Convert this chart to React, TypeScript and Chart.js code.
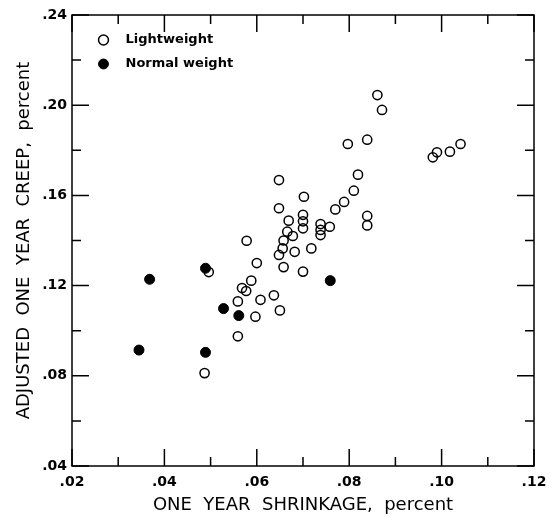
import React, { useEffect, useRef } from 'react';
import { Chart, registerables } from 'chart.js';

Chart.register(...registerables);

// Lightweight concrete (open circles)
const lightShrinkage = [
  0.0487, 0.0496, 0.0559, 0.0559, 0.0568, 0.0577, 0.0578, 0.0588, 0.0597, 0.06,
  0.0608, 0.0637, 0.065, 0.0648, 0.0648, 0.0648, 0.0656, 0.0658, 0.0658, 0.0666,
  0.0669, 0.0678, 0.0682, 0.07, 0.07, 0.07, 0.07, 0.0702, 0.0718, 0.0738,
  0.0738, 0.0738, 0.0758, 0.077, 0.0789, 0.0797, 0.081, 0.0819, 0.0839, 0.0839,
  0.0839, 0.0861, 0.0871, 0.0981, 0.099, 0.1018, 0.1041,
];
const lightCreep = [
  0.0812, 0.126, 0.0975, 0.113, 0.1189, 0.1176, 0.1399, 0.1222, 0.1062, 0.13,
  0.1137, 0.1157, 0.109, 0.1336, 0.1543, 0.1668, 0.1365, 0.1282, 0.14, 0.1439,
  0.1488, 0.142, 0.135, 0.1262, 0.1454, 0.1485, 0.1514, 0.1594, 0.1365, 0.1424,
  0.1447, 0.1473, 0.1461, 0.1538, 0.1571, 0.1828, 0.1621, 0.1692, 0.1847, 0.1509,
  0.1467, 0.2045, 0.1979, 0.1769, 0.1791, 0.1794, 0.1828,
];

// Normal weight concrete (filled circles)
const normalShrinkage = [0.0345, 0.0368, 0.0489, 0.0489, 0.0528, 0.0561, 0.0759];
const normalCreep = [0.0914, 0.1228, 0.1277, 0.0904, 0.1098, 0.1067, 0.1222];

const seriesNames = ['Lightweight', 'Normal weight'];

const xLabelValues = [0.02, 0.04, 0.06, 0.08, 0.1, 0.12];
const xTickLabels = ['.02', '.04', '.06', '.08', '.10', '.12'];
const yLabelValues = [0.04, 0.08, 0.12, 0.16, 0.2, 0.24];
const yTickLabels = ['.04', '.08', '.12', '.16', '.20', '.24'];

// tick marks drawn inside the frame (major = labelled)
const xMarkValues = [0.02, 0.03, 0.04, 0.05, 0.06, 0.07, 0.08, 0.09, 0.1, 0.11, 0.12];
const yMarkValues = [0.04, 0.06, 0.08, 0.1, 0.12, 0.14, 0.16, 0.18, 0.2, 0.22, 0.24];

const xTitle = 'ONE  YEAR  SHRINKAGE,  percent';
const yTitle = 'ADJUSTED  ONE  YEAR  CREEP,  percent';

const FONT = '"DejaVu Sans", "Liberation Sans", sans-serif';

function isLabelled(v: number, list: number[]) {
  return list.some((l) => Math.abs(l - v) < 1e-9);
}

const frameTicksPlugin = {
  id: 'frameTicks',
  afterDraw(chart: any) {
    const { ctx, chartArea } = chart;
    const xs = chart.scales.x;
    const ys = chart.scales.y;
    const { left, right, top, bottom } = chartArea;
    ctx.save();
    ctx.strokeStyle = '#000';
    ctx.lineWidth = 1.5;
    ctx.strokeRect(left, top, right - left, bottom - top);
    ctx.beginPath();
    xMarkValues.forEach((v) => {
      const px = xs.getPixelForValue(v);
      const len = isLabelled(v, xLabelValues) ? 17 : 9;
      ctx.moveTo(px, bottom);
      ctx.lineTo(px, bottom - len);
      ctx.moveTo(px, top);
      ctx.lineTo(px, top + len);
    });
    yMarkValues.forEach((v) => {
      const py = ys.getPixelForValue(v);
      const len = isLabelled(v, yLabelValues) ? 17 : 9;
      ctx.moveTo(left, py);
      ctx.lineTo(left + len, py);
      ctx.moveTo(right, py);
      ctx.lineTo(right - len, py);
    });
    ctx.stroke();
    ctx.restore();
  },
};

const legendPlacePlugin = {
  id: 'legendPlace',
  afterLayout(chart: any) {
    const lg = chart.legend;
    if (lg) {
      lg.left += 14;
      lg.top += 22.5;
    }
  },
};

export default function App() {
  const canvasRef = useRef<HTMLCanvasElement | null>(null);

  useEffect(() => {
    const canvas = canvasRef.current;
    if (!canvas) return;
    const chart = new Chart(canvas, {
      type: 'scatter',
      data: {
        datasets: [
          {
            label: seriesNames[0],
            data: lightShrinkage.map((x, i) => ({ x, y: lightCreep[i] })),
            pointRadius: 4.6,
            pointBorderWidth: 1.5,
            borderWidth: 1.5,
            pointBackgroundColor: 'rgba(0,0,0,0)',
            backgroundColor: 'rgba(0,0,0,0)',
            pointBorderColor: '#000',
            borderColor: '#000',
            order: 1,
          },
          {
            label: seriesNames[1],
            data: normalShrinkage.map((x, i) => ({ x, y: normalCreep[i] })),
            pointRadius: 5,
            pointBorderWidth: 1,
            borderWidth: 1,
            pointBackgroundColor: '#000',
            backgroundColor: '#000',
            pointBorderColor: '#000',
            borderColor: '#000',
            order: 0,
          },
        ],
      },
      options: {
        responsive: false,
        animation: false,
        layout: { padding: { top: 15, right: 21, left: 0, bottom: 0 } },
        scales: {
          x: {
            type: 'linear',
            min: 0.02,
            max: 0.12,
            grid: { display: false, drawTicks: false },
            border: { display: false },
            afterBuildTicks: (scale: any) => {
              scale.ticks = xLabelValues.map((v) => ({ value: v }));
            },
            afterFit: (scale: any) => {
              scale.height = 50;
            },
            ticks: {
              autoSkip: false,
              maxRotation: 0,
              padding: 8,
              color: '#000',
              font: { family: FONT, size: 14, weight: 'bold' },
              callback: (value: any) => {
                const i = xLabelValues.findIndex((v) => Math.abs(v - Number(value)) < 1e-9);
                return i >= 0 ? xTickLabels[i] : '';
              },
            },
            title: {
              display: true,
              text: xTitle,
              color: '#000',
              font: { family: FONT, size: 18, weight: 'normal' },
              padding: { top: 0, bottom: 0 },
            },
          },
          y: {
            type: 'linear',
            min: 0.04,
            max: 0.24,
            grid: { display: false, drawTicks: false },
            border: { display: false },
            afterBuildTicks: (scale: any) => {
              scale.ticks = yLabelValues.map((v) => ({ value: v }));
            },
            afterFit: (scale: any) => {
              scale.width = 72;
            },
            ticks: {
              autoSkip: false,
              padding: 5,
              color: '#000',
              font: { family: FONT, size: 14, weight: 'bold' },
              callback: (value: any) => {
                const i = yLabelValues.findIndex((v) => Math.abs(v - Number(value)) < 1e-9);
                return i >= 0 ? yTickLabels[i] : '';
              },
            },
            title: {
              display: true,
              text: yTitle,
              color: '#000',
              font: { family: FONT, size: 18, weight: 'normal' },
              padding: { top: 14, bottom: 0 },
            },
          },
        },
        plugins: {
          tooltip: { enabled: false },
          legend: {
            display: true,
            position: 'chartArea',
            align: 'start',
            labels: {
              usePointStyle: true,
              boxHeight: 7,
              padding: 11,
              color: '#000',
              font: { family: FONT, size: 13, weight: 'bold' },
              sort: (a: any, b: any) => a.datasetIndex - b.datasetIndex,
              generateLabels: (c: any) =>
                (Chart.defaults.plugins.legend.labels as any)
                  .generateLabels(c)
                  .map((l: any) => ({ ...l, text: '  ' + l.text })),
            },
          },
        },
      } as any,
      plugins: [frameTicksPlugin, legendPlacePlugin],
    });
    return () => chart.destroy();
  }, []);

  return (
    <div style={{ position: 'absolute', left: 0, top: 0, width: 555, height: 516, background: '#fff' }}>
      <canvas ref={canvasRef} width={555} height={516} style={{ display: 'block' }} />
    </div>
  );
}
